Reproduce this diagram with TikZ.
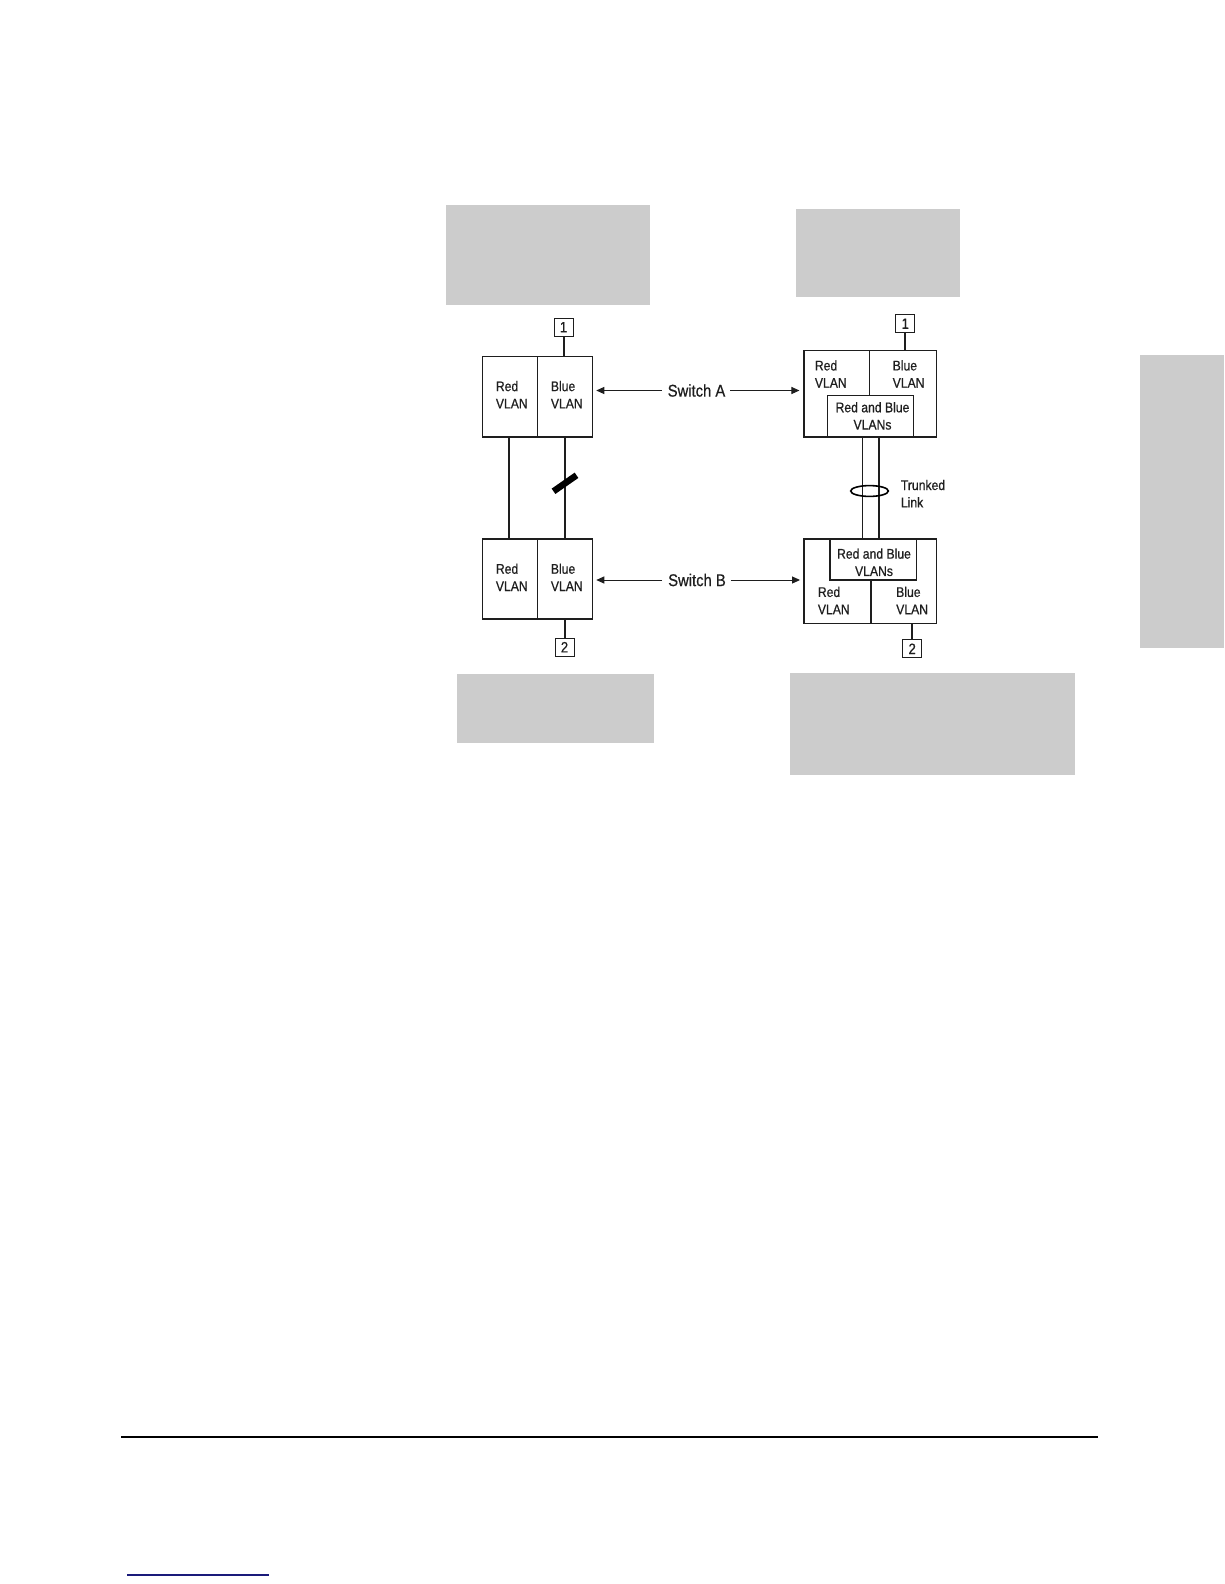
\documentclass[tikz,border=0pt]{standalone}
\usepackage{fontspec}
\setmainfont{Liberation Sans}[FakeStretch=0.87,FakeBold=0.6]
\usetikzlibrary{arrows.meta}
\definecolor{panelgray}{HTML}{CCCCCC}
\definecolor{inkgray}{HTML}{1E1E1E}
\definecolor{rulenavy}{HTML}{1A1A7A}
\newcommand\vlanfont{\fontsize{14}{17.3}\selectfont}
\newcommand\swfont{\fontsize{17}{20}\selectfont}
\newcommand\numfont{\fontsize{15}{18}\selectfont}
\begin{document}
\begin{tikzpicture}[x=1pt,y=-1pt,
  panel/.style={fill=panelgray,draw=none,inner sep=0pt,anchor=north west},
  swbox/.style={draw=inkgray,line width=1.1pt,inner sep=0pt},
  numbox/.style={draw=inkgray,line width=1pt,minimum width=19pt,minimum height=18pt,inner sep=0pt,font=\numfont,text=inkgray},
  vlan/.style={inner sep=0pt,font=\vlanfont,text=inkgray,anchor=west,align=left},
  vlanc/.style={inner sep=0pt,font=\vlanfont,text=inkgray,align=center},
  swlabel/.style={inner sep=0pt,font=\swfont,text=inkgray},
  arr/.style={draw=inkgray,line width=1pt,-{Triangle[length=8pt,width=7pt]}},
  link/.style={draw=inkgray,line width=1.4pt},
  uplink/.style={draw=inkgray,line width=2pt}
]
\useasboundingbox (0,0) rectangle (1224,1584);

% gray panels
\node[panel,minimum width=204pt,minimum height=100pt] (pTL) at (446,205) {};
\node[panel,minimum width=164pt,minimum height=88pt] (pTR) at (796,209) {};
\node[panel,minimum width=197pt,minimum height=69pt] (pBL) at (457,674) {};
\node[panel,minimum width=285pt,minimum height=102pt] (pBR) at (790,673) {};
\node[panel,minimum width=84pt,minimum height=293pt] (pTab) at (1140,355) {};

% ---------- left diagram ----------
\node[swbox,minimum width=110pt,minimum height=80.3pt] (swA) at (537.3,396.85) {};
\node[swbox,minimum width=110pt,minimum height=80pt] (swB) at (537.3,579) {};
\draw[swbox] (swA.north) -- (swA.south);
\draw[swbox] (swB.north) -- (swB.south);

\node[vlan] (aRed) at (495.7,394.7) {Red\\VLAN};
\node[vlan] (aBlue) at (550.7,394.7) {Blue\\VLAN};
\node[vlan] (bRed) at (495.7,577.3) {Red\\VLAN};
\node[vlan] (bBlue) at (550.7,577.3) {Blue\\VLAN};

\node[numbox] (n1a) at (563.5,327.2) {1};
\node[numbox] (n2a) at (564.5,647.2) {2};
\draw[uplink] (n1a.south) -- (n1a.south |- swA.north);
\draw[uplink] (n2a.north) -- (n2a.north |- swB.south);

\coordinate (cRed) at (509,0);
\coordinate (cBlue) at (565,0);
\draw[link] (swA.south -| cRed) -- (swB.north -| cRed);
\draw[link] (swA.south -| cBlue) -- (swB.north -| cBlue);
\draw[line width=6.5pt,draw=black] (553.5,491.3) -- (576.5,475.3);

% ---------- right diagram ----------
\node[swbox,minimum width=132.3pt,minimum height=86.3pt] (swAr) at (870.15,393.85) {};
\node[swbox,minimum width=86.4pt,minimum height=41.7pt] (inA) at (870.5,416.15) {};
\coordinate (dA) at (869.3,0);
\draw[swbox] (swAr.north -| dA) -- (inA.north -| dA);

\node[swbox,minimum width=132.3pt,minimum height=84.3pt] (swBr) at (870.15,581.15) {};
\node[swbox,minimum width=86.7pt,minimum height=41pt] (inB) at (873.35,559.5) {};
\coordinate (dB) at (871,0);
\draw[swbox] (inB.south -| dB) -- (swBr.south -| dB);

\node[vlan] (arRed) at (814.7,374) {Red\\VLAN};
\node[vlan] (arBlue) at (892.5,374) {Blue\\VLAN};
\node[vlanc] (arBoth) at (872.5,415.9) {Red and Blue\\VLANs};
\node[vlanc] (brBoth) at (874,562.3) {Red and Blue\\VLANs};
\node[vlan] (brRed) at (817.7,600.5) {Red\\VLAN};
\node[vlan] (brBlue) at (896,600.5) {Blue\\VLAN};

\node[numbox] (n1b) at (905.2,323.7) {1};
\node[numbox] (n2b) at (912.2,648.8) {2};
\draw[uplink] (n1b.south) -- (n1b.south |- swAr.north);
\draw[uplink] (n2b.north) -- (n2b.north |- swBr.south);

\coordinate (tL) at (862.7,0);
\coordinate (tR) at (878.7,0);
\draw[link,line width=1.3pt] (swAr.south -| tL) -- (swBr.north -| tL);
\draw[link,line width=2pt] (swAr.south -| tR) -- (swBr.north -| tR);
\draw[draw=black,line width=1.6pt] (869.5,491) ellipse [x radius=18.8pt, y radius=5.4pt];
\node[vlan] (trunk) at (900.7,493.6) {Trunked\\Link};

% ---------- switch labels ----------
\node[swlabel] (labA) at (696.5,390.5) {Switch A};
\node[swlabel] (labB) at (697,580) {Switch B};
\draw[arr,shorten >=3.4pt] (labA.west) ++(-6,0) -- (labA.west -| swA.east);
\draw[arr,shorten >=4pt] (labA.east) ++(5,0) -- (labA.east -| swAr.west);
\draw[arr,shorten >=3.4pt] (labB.west) ++(-6,0) -- (labB.west -| swB.east);
\draw[arr,shorten >=3.4pt] (labB.east) ++(5,0) -- (labB.east -| swBr.west);

% ---------- page rules ----------
\coordinate (ruleL) at (121,1437);
\coordinate (ruleR) at (1098,1437);
\draw[draw=black,line width=1.5pt] (ruleL) -- (ruleR);
\coordinate (blueL) at (127,1575);
\coordinate (blueR) at (269,1575);
\draw[draw=rulenavy,line width=1.2pt] (blueL) -- (blueR);
\end{tikzpicture}
\end{document}
